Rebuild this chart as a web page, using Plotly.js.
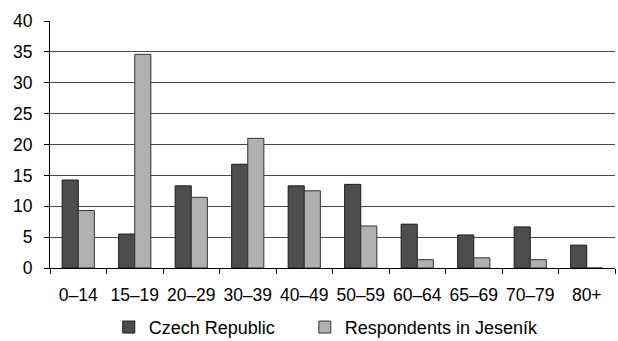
<!DOCTYPE html>
<html><head><meta charset="utf-8">
<script src="https://cdn.plot.ly/plotly-3.0.1.min.js"></script>
<style>html,body{margin:0;padding:0;background:#fff}#chart{width:618px;height:341px}</style>
</head><body><div id="chart"></div>
<script>
const categories = ["0–14","15–19","20–29","30–39","40–49","50–59","60–64","65–69","70–79","80+"];
const czechRepublic = [14.25, 5.5, 13.3, 16.8, 13.3, 13.55, 7.1, 5.35, 6.65, 3.7];
const jesenik = [9.3, 34.6, 11.45, 21.0, 12.5, 6.8, 1.35, 1.65, 1.35, 0];
const yTicks = [0,5,10,15,20,25,30,35,40];

const traces = [
  {type:"bar", name:"Czech Republic", x:categories, y:czechRepublic, legend:"legend",
   marker:{color:"#4d4d4d", line:{color:"#1a1a1a", width:1}}},
  {type:"bar", name:"Respondents in Jeseník", x:categories, y:jesenik, legend:"legend2",
   marker:{color:"#b0b0b0", line:{color:"#333333", width:1}}}
];
const legendBase = {orientation:"h", xanchor:"left", xref:"paper",
  y:0.04, yanchor:"middle", yref:"container", font:{size:18}, itemwidth:30};
const layout = {
  width:618, height:341,
  margin:{l:50, r:3, t:21, b:73},
  paper_bgcolor:"#fff", plot_bgcolor:"#fff",
  font:{family:"Liberation Sans, Arial, sans-serif", color:"#000"},
  barmode:"group", bargap:0.43, bargroupgap:0,
  showlegend:true,
  legend:Object.assign({}, legendBase, {x:0.104}),
  legend2:Object.assign({}, legendBase, {x:0.451}),
  xaxis:{type:"category", showline:true, linecolor:"#000", linewidth:1,
         ticks:"outside", tickson:"boundaries", ticklen:5, tickcolor:"#000",
         tickangle:0, tickfont:{size:17.5}, ticklabelstandoff:11, showgrid:false, zeroline:false, fixedrange:true},
  yaxis:{range:[0,40], tickvals:yTicks, showline:true, linecolor:"#000", linewidth:1,
         ticks:"outside", ticklen:5, tickcolor:"#000", tickfont:{size:17.5}, ticklabelstandoff:8,
         showgrid:true, gridcolor:"#4a4a4a", gridwidth:1, zeroline:false, fixedrange:true}
};
Plotly.newPlot("chart", traces, layout, {displayModeBar:false, staticPlot:true});
</script></body></html>
